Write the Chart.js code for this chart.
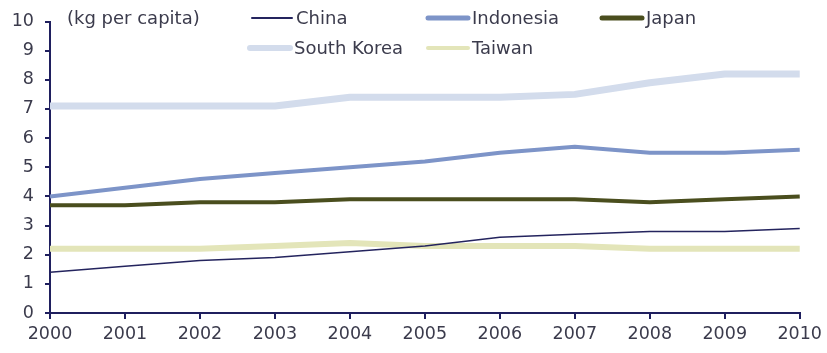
<!DOCTYPE html>
<html>
<head>
<meta charset="utf-8">
<script src="https://cdn.jsdelivr.net/npm/chart.js@4/dist/chart.umd.min.js"></script>
<style>
  html, body { margin: 0; padding: 0; background: #ffffff; }
  canvas { display: block; }
</style>
</head>
<body>
<canvas id="myChart" width="827" height="353"></canvas>
<script>
var years = ['2000', '2001', '2002', '2003', '2004', '2005', '2006', '2007', '2008', '2009', '2010'];
var china = [1.4, 1.6, 1.8, 1.9, 2.1, 2.3, 2.6, 2.7, 2.8, 2.8, 2.9];
var indonesia = [4.0, 4.3, 4.6, 4.8, 5.0, 5.2, 5.5, 5.7, 5.5, 5.5, 5.6];
var japan = [3.7, 3.7, 3.8, 3.8, 3.9, 3.9, 3.9, 3.9, 3.8, 3.9, 4.0];
var southKorea = [7.1, 7.1, 7.1, 7.1, 7.4, 7.4, 7.4, 7.5, 7.9, 8.2, 8.2];
var taiwan = [2.2, 2.2, 2.2, 2.3, 2.4, 2.3, 2.3, 2.3, 2.2, 2.2, 2.2];
var unitLabel = '(kg per capita)';

var axisColor = '#1f1f5e';
var textColor = '#3b3b4c';
var fontFamily = '"DejaVu Sans"';
var fontSize = 17.5;

// legend placement: [x of swatch start, y]
var legendSpots = [[252, 18], [428, 18], [602, 18], [250, 48], [428, 48]];

var legendPlugin = {
    id: 'manualLegend',
    afterDraw: function (chart) {
        var ctx = chart.ctx;
        ctx.save();
        ctx.font = '18px ' + fontFamily;
        ctx.fillStyle = textColor;
        ctx.textBaseline = 'middle';
        ctx.textAlign = 'left';
        ctx.fillText(unitLabel, 67, 19);
        chart.data.datasets.forEach(function (ds, i) {
            var p = legendSpots[i];
            ctx.strokeStyle = ds.borderColor;
            ctx.lineWidth = ds.legendWidth;
            ctx.lineCap = 'round';
            ctx.beginPath();
            ctx.moveTo(p[0], p[1]);
            ctx.lineTo(p[0] + 40, p[1]);
            ctx.stroke();
            ctx.fillText(ds.label, p[0] + 44, p[1] + 1);
        });
        ctx.restore();
    }
};

var ctx = document.getElementById('myChart').getContext('2d');
var myChart = new Chart(ctx, {
    type: 'line',
    data: {
        labels: years,
        datasets: [{
            label: 'China',
            data: china,
            borderColor: '#24245e',
            borderWidth: 1.5,
            legendWidth: 2,
            order: 1
        }, {
            label: 'Indonesia',
            data: indonesia,
            borderColor: '#7d94c8',
            borderWidth: 4,
            legendWidth: 5,
            order: 3
        }, {
            label: 'Japan',
            data: japan,
            borderColor: '#4a4e1e',
            borderWidth: 4,
            legendWidth: 5,
            order: 2
        }, {
            label: 'South Korea',
            data: southKorea,
            borderColor: '#d3dcec',
            borderWidth: 7,
            legendWidth: 6,
            order: 5
        }, {
            label: 'Taiwan',
            data: taiwan,
            borderColor: '#e3e5b9',
            borderWidth: 6,
            legendWidth: 4,
            order: 4
        }]
    },
    options: {
        responsive: false,
        animation: false,
        layout: {
            padding: { top: 20, right: 25, left: 0, bottom: 0 }
        },
        elements: {
            point: { radius: 0, hoverRadius: 0 },
            line: { tension: 0, borderCapStyle: 'butt', borderJoinStyle: 'round', fill: false }
        },
        plugins: {
            legend: { display: false },
            tooltip: { enabled: false }
        },
        scales: {
            x: {
                offset: false,
                grid: {
                    display: true,
                    drawOnChartArea: false,
                    drawTicks: true,
                    tickLength: 6,
                    color: axisColor,
                    lineWidth: 2
                },
                border: { display: true, color: axisColor, width: 2 },
                ticks: {
                    color: textColor,
                    font: { family: fontFamily, size: fontSize },
                    padding: 5,
                    maxRotation: 0,
                    autoSkip: false
                },
                afterFit: function (scale) { scale.height = 40; }
            },
            y: {
                min: 0,
                max: 10,
                grid: {
                    display: true,
                    drawOnChartArea: false,
                    drawTicks: true,
                    tickLength: 5,
                    color: axisColor,
                    lineWidth: 2
                },
                border: { display: true, color: axisColor, width: 2 },
                ticks: {
                    stepSize: 1,
                    color: textColor,
                    font: { family: fontFamily, size: fontSize },
                    padding: 11
                },
                afterFit: function (scale) { scale.width = 50; }
            }
        }
    },
    plugins: [legendPlugin]
});
</script>
</body>
</html>
